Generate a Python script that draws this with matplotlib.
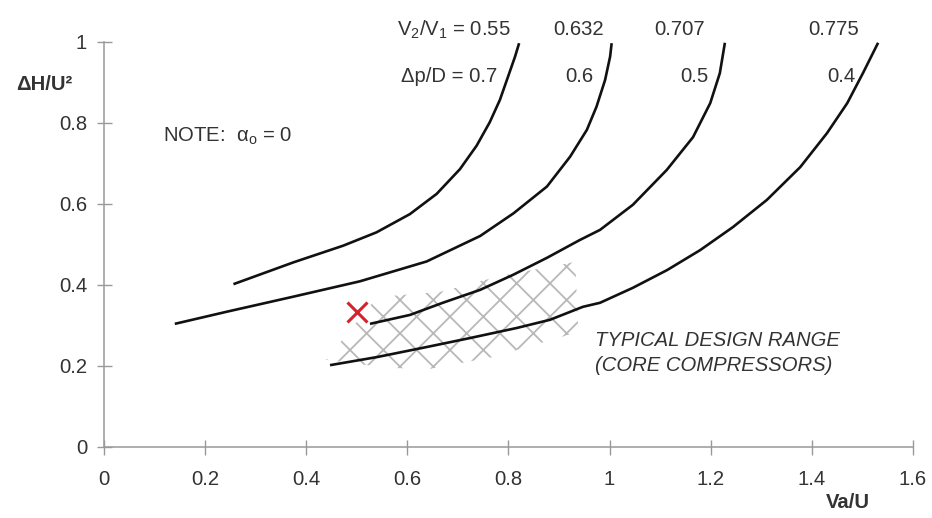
import matplotlib
matplotlib.use("Agg")
import matplotlib.pyplot as plt

plt.rcParams['font.family'] = ['Liberation Sans', 'DejaVu Sans']
plt.rcParams['mathtext.fontset'] = 'custom'
plt.rcParams['mathtext.rm'] = 'Liberation Sans'
plt.rcParams['mathtext.it'] = 'Liberation Sans:italic'
plt.rcParams['hatch.linewidth'] = 0.65

# constant V2/V1 (delta p / D) lines, Va/U vs dH/U^2
va_055 = [0.256, 0.375, 0.473, 0.539, 0.605, 0.658, 0.704, 0.737, 0.763, 0.783, 0.799, 0.813, 0.821]
dh_055 = [0.402, 0.456, 0.497, 0.530, 0.575, 0.625, 0.686, 0.744, 0.802, 0.857, 0.914, 0.964, 0.997]

va_0632 = [0.140, 0.243, 0.374, 0.506, 0.638, 0.744, 0.810, 0.876, 0.922, 0.955, 0.974, 0.991, 1.001, 1.004]
dh_0632 = [0.304, 0.334, 0.371, 0.409, 0.458, 0.521, 0.577, 0.643, 0.717, 0.783, 0.840, 0.906, 0.964, 0.997]

va_0707 = [0.526, 0.605, 0.670, 0.744, 0.809, 0.876, 0.941, 0.981, 1.046, 1.113, 1.165, 1.199, 1.218, 1.228]
dh_0707 = [0.304, 0.326, 0.356, 0.388, 0.425, 0.467, 0.511, 0.536, 0.598, 0.684, 0.765, 0.849, 0.923, 0.998]

va_0775 = [0.447, 0.540, 0.639, 0.724, 0.817, 0.882, 0.947, 0.981, 1.046, 1.114, 1.179, 1.244, 1.311,
           1.377, 1.430, 1.470, 1.501, 1.531]
dh_0775 = [0.202, 0.222, 0.247, 0.269, 0.294, 0.314, 0.346, 0.356, 0.393, 0.437, 0.486, 0.543, 0.610,
           0.691, 0.775, 0.849, 0.923, 0.998]

# typical design range outline
range_va = [0.439, 0.540, 0.665, 0.783, 0.932, 0.938, 0.769, 0.645, 0.566]
range_dh = [0.215, 0.370, 0.383, 0.422, 0.457, 0.284, 0.222, 0.193, 0.195]

point_va = 0.5
point_dh = 0.333

ratio_labels = [r"$\mathrm{V_2/V_1}$ = 0.55", "0.632", "0.707", "0.775"]
ratio_x = [0.805, 0.989, 1.189, 1.493]
dp_labels = [u"\u0394p/D = 0.7", "0.6", "0.5", "0.4"]
dp_x = [0.778, 0.968, 1.195, 1.487]

x_ticks = [0, 0.2, 0.4, 0.6, 0.8, 1.0, 1.2, 1.4, 1.6]
x_ticklabels = ["0", "0.2", "0.4", "0.6", "0.8", "1", "1.2", "1.4", "1.6"]
y_ticks = [0, 0.2, 0.4, 0.6, 0.8, 1.0]
y_ticklabels = ["0", "0.2", "0.4", "0.6", "0.8", "1"]

txt = '#333333'
fs = 7.3

fig = plt.figure(figsize=(4.66, 2.59), dpi=200)
ax = fig.add_axes([0.1116, 0.1371, 0.868, 0.7819])

ax.fill(range_va, range_dh, facecolor='none', edgecolor='#b8b8b8', hatch='xx', linewidth=0)

for va, dh in [(va_055, dh_055), (va_0632, dh_0632), (va_0707, dh_0707), (va_0775, dh_0775)]:
    ax.plot(va, dh, color='#111111', lw=0.95, solid_capstyle='butt')

ax.plot(point_va, point_dh, marker='x', color='#d4232e', markersize=7.5, mew=1.1, ls='none')

for lab, x in zip(ratio_labels, ratio_x):
    ax.text(x, 1.03, lab, ha='right', va='center', fontsize=fs, color=txt, clip_on=False)
for lab, x in zip(dp_labels, dp_x):
    ax.text(x, 0.915, lab, ha='right', va='center', fontsize=fs, color=txt)

ax.text(0.117, 0.768, r"NOTE:  " + u"\u03b1" + r"$_\mathrm{o}$ = 0", ha='left', va='center',
        fontsize=fs, color=txt)
ax.text(0.971, 0.262, "TYPICAL DESIGN RANGE", ha='left', va='center', fontsize=fs,
        color=txt, style='italic')
ax.text(0.971, 0.200, "(CORE COMPRESSORS)", ha='left', va='center', fontsize=fs,
        color=txt, style='italic')

ax.text(-0.063, 0.894, u"\u0394H/U\u00b2", ha='right', va='center', fontsize=fs,
        color=txt, fontweight='bold', clip_on=False)
ax.text(1.472, -0.137, "Va/U", ha='center', va='center', fontsize=fs,
        color=txt, fontweight='bold', clip_on=False)

ax.set_xlim(0, 1.6)
ax.set_ylim(0, 1.0)
ax.set_xticks(x_ticks)
ax.set_xticklabels(x_ticklabels)
ax.set_yticks(y_ticks)
ax.set_yticklabels(y_ticklabels)

for side in ['top', 'right']:
    ax.spines[side].set_visible(False)
for side in ['left', 'bottom']:
    ax.spines[side].set_color('#999999')
    ax.spines[side].set_linewidth(0.55)

ax.tick_params(direction='inout', length=5.4, width=0.5, color='#999999',
               labelsize=fs, labelcolor=txt)
ax.tick_params(axis='x', pad=5.6)
ax.tick_params(axis='y', pad=3.4)

fig.savefig("out.png", dpi=200)
